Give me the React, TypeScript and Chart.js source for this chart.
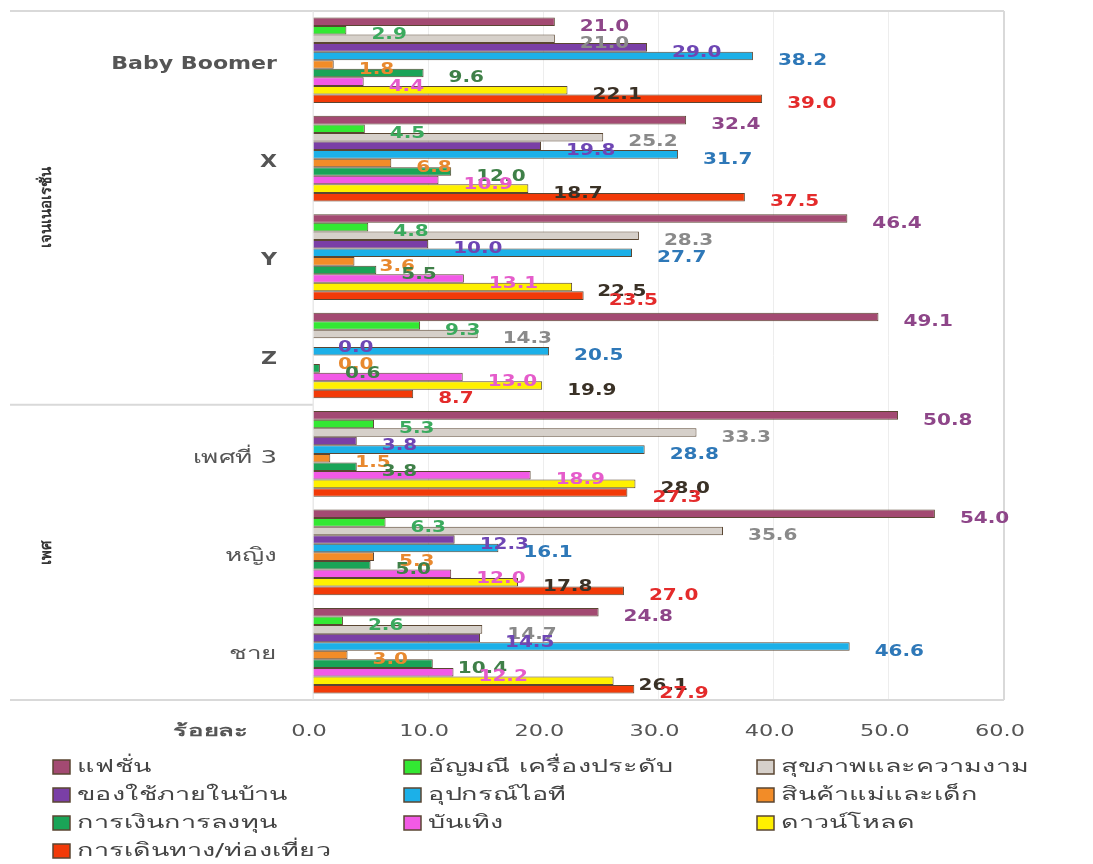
import React, { useEffect, useRef } from "react";
import { Chart, registerables } from "chart.js";

Chart.register(...registerables);

// ---------- data ----------
const categories = ["Baby Boomer", "X", "Y", "Z", "เพศที่ 3", "หญิง", "ชาย"];
const groupNames = ["เจนเนอเรชั่น", "เพศ"];
const groupSizes = [4, 3];
const seriesNames = [
  "แฟชั่น",
  "อัญมณี เครื่องประดับ",
  "สุขภาพและความงาม",
  "ของใช้ภายในบ้าน",
  "อุปกรณ์ไอที",
  "สินค้าแม่และเด็ก",
  "การเงินการลงทุน",
  "บันเทิง",
  "ดาวน์โหลด",
  "การเดินทาง/ท่องเที่ยว",
];
const fashion = [21.0, 32.4, 46.4, 49.1, 50.8, 54.0, 24.8];
const jewelry = [2.9, 4.5, 4.8, 9.3, 5.3, 6.3, 2.6];
const health = [21.0, 25.2, 28.3, 14.3, 33.3, 35.6, 14.7];
const household = [29.0, 19.8, 10.0, 0.0, 3.8, 12.3, 14.5];
const itDevices = [38.2, 31.7, 27.7, 20.5, 28.8, 16.1, 46.6];
const motherChild = [1.8, 6.8, 3.6, 0.0, 1.5, 5.3, 3.0];
const finance = [9.6, 12.0, 5.5, 0.6, 3.8, 5.0, 10.4];
const entertainment = [4.4, 10.9, 13.1, 13.0, 18.9, 12.0, 12.2];
const download = [22.1, 18.7, 22.5, 19.9, 28.0, 17.8, 26.1];
const travel = [39.0, 37.5, 23.5, 8.7, 27.3, 27.0, 27.9];
const seriesValues = [fashion, jewelry, health, household, itDevices, motherChild, finance, entertainment, download, travel];
const xMin = 0;
const xMax = 60;
const xStep = 10;
const axisTitle = "ร้อยละ";

// ---------- styles ----------
const barColors = ["#A34A72", "#33E833", "#D6D0CA", "#7A3FA6", "#1CB0E8", "#F28C28", "#1AA457", "#F25AE6", "#FFF000", "#F23A08"];
const labelColors = ["#8E4689", "#3BAA5E", "#8A8A8A", "#6E46B4", "#2E78B8", "#E8892F", "#3F8048", "#E55CCB", "#3A3126", "#E42B2B"];
const FF = '"DejaVu Sans", "Noto Sans", sans-serif';
const LINE = "#d9d9d9";

function drawText(ctx: CanvasRenderingContext2D, text: string, x: number, y: number, align: string, font: string, color: string, sx = 1.28) {
  ctx.save();
  ctx.font = font;
  ctx.fillStyle = color;
  ctx.textBaseline = "middle";
  ctx.textAlign = "left";
  const w = ctx.measureText(text).width * sx;
  const left = align === "left" ? x : align === "right" ? x - w : x - w / 2;
  ctx.translate(left, y);
  ctx.scale(sx, 1);
  ctx.fillText(text, 0, 0);
  ctx.restore();
}

const overlay = {
  id: "overlay",
  beforeDatasetsDraw(chart: any) {
    const ctx = chart.ctx as CanvasRenderingContext2D;
    const { left, right, top, bottom } = chart.chartArea;
    const y = chart.scales.y;
    ctx.save();
    ctx.strokeStyle = LINE;
    ctx.lineWidth = 2;
    ctx.beginPath();
    ctx.moveTo(10, top);
    ctx.lineTo(right, top);
    ctx.moveTo(10, bottom);
    ctx.lineTo(right, bottom);
    ctx.moveTo(right, top);
    ctx.lineTo(right, bottom);
    let idx = 0;
    for (let g = 0; g < groupSizes.length - 1; g++) {
      idx += groupSizes[g];
      const sy = (y.getPixelForValue(idx - 1) + y.getPixelForValue(idx)) / 2;
      ctx.moveTo(10, sy);
      ctx.lineTo(left, sy);
    }
    ctx.stroke();
    ctx.strokeStyle = "#e6e6e6";
    ctx.lineWidth = 1;
    ctx.beginPath();
    ctx.moveTo(left, top);
    ctx.lineTo(left, bottom);
    ctx.stroke();
    ctx.restore();
  },
  afterDatasetsDraw(chart: any) {
    const ctx = chart.ctx as CanvasRenderingContext2D;
    chart.data.datasets.forEach((ds: any, i: number) => {
      const meta = chart.getDatasetMeta(i);
      meta.data.forEach((el: any, j: number) => {
        const v = ds.data[j] as number;
        drawText(ctx, v.toFixed(1), el.x + 25, el.y + 5, "left", `bold 16px ${FF}`, labelColors[i], 1.25);
      });
    });
  },
  afterDraw(chart: any) {
    const ctx = chart.ctx as CanvasRenderingContext2D;
    const { left, bottom } = chart.chartArea;
    const x = chart.scales.x;
    const y = chart.scales.y;
    categories.forEach((c, i) => {
      const latin = i < groupSizes[0];
      if (latin) {
        drawText(ctx, c, left - 36, y.getPixelForValue(i) + 4, "right", `bold 17px ${FF}`, "#555555", 1.3);
      } else {
        drawText(ctx, c, left - 36, y.getPixelForValue(i) + 4, "right", `18px ${FF}`, "#555555", 1.45);
      }
    });
    let start = 0;
    groupNames.forEach((g, gi) => {
      const end = start + groupSizes[gi] - 1;
      const cy = (y.getPixelForValue(start) + y.getPixelForValue(end)) / 2;
      ctx.save();
      ctx.translate(47, cy);
      ctx.rotate(-Math.PI / 2);
      ctx.font = `bold 15px ${FF}`;
      ctx.fillStyle = "#333333";
      ctx.textAlign = "center";
      ctx.textBaseline = "middle";
      ctx.fillText(g, 0, 0);
      ctx.restore();
      start += groupSizes[gi];
    });
    const ty = bottom + 32;
    x.ticks.forEach((t: any) => {
      drawText(ctx, Number(t.value).toFixed(1), x.getPixelForValue(t.value) - 4, ty, "center", `16px ${FF}`, "#555555", 1.4);
    });
    drawText(ctx, axisTitle, 211, ty, "center", `bold 16px ${FF}`, "#555555", 1.6);
    const cols = [53, 404, 757];
    const rows = [767, 795, 823, 851];
    chart.data.datasets.forEach((ds: any, i: number) => {
      const cx = cols[i % 3];
      const ry = rows[Math.floor(i / 3)];
      ctx.save();
      ctx.fillStyle = barColors[i];
      ctx.fillRect(cx, ry - 7, 17, 14);
      ctx.strokeStyle = "#5a4632";
      ctx.lineWidth = 1.5;
      ctx.strokeRect(cx, ry - 7, 17, 14);
      ctx.restore();
      drawText(ctx, ds.label, cx + 24, ry, "left", `18px ${FF}`, "#444444", 1.5);
    });
  },
};

export default function App() {
  const ref = useRef<HTMLCanvasElement | null>(null);
  useEffect(() => {
    if (!ref.current) return;
    const chart = new Chart(ref.current, {
      type: "bar",
      data: {
        labels: categories,
        datasets: seriesNames.map((name, i) => ({
          label: name,
          data: seriesValues[i],
          backgroundColor: barColors[i],
          borderColor: "#5a4632",
          borderWidth: 1,
          categoryPercentage: 0.87,
          barPercentage: 1.0,
        })),
      },
      options: {
        animation: false,
        responsive: false,
        indexAxis: "y",
        layout: { padding: { left: 0, top: 11, right: 89, bottom: 164 } },
        plugins: { legend: { display: false }, tooltip: { enabled: false } },
        scales: {
          x: {
            min: xMin,
            max: xMax,
            ticks: { stepSize: xStep, display: false },
            grid: { color: "#ededed", drawTicks: false },
            border: { display: false },
            afterFit: (s: any) => {
              s.height = 0;
            },
          },
          y: {
            ticks: { display: false },
            grid: { display: false, drawTicks: false },
            border: { display: false },
            afterFit: (s: any) => {
              s.width = 313;
            },
          },
        },
      },
      plugins: [overlay],
    } as any);
    return () => chart.destroy();
  }, []);
  return (
    <div style={{ position: "absolute", left: 0, top: 0, width: 1093, height: 864, background: "#fff" }}>
      <canvas ref={ref} width={1093} height={864} style={{ width: 1093, height: 864, display: "block" }} />
    </div>
  );
}
